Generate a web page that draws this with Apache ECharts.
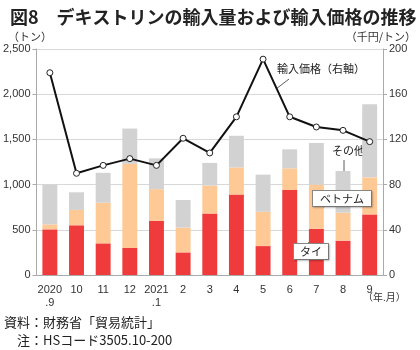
<!DOCTYPE html>
<html>
<head>
<meta charset="utf-8">
<script src="https://cdn.jsdelivr.net/npm/echarts@6/dist/echarts.min.js"></script>
<style>
  html, body { margin: 0; padding: 0; background: #fff; }
  #chart { width: 420px; height: 350px; }
</style>
</head>
<body>
<div id="chart"></div>
<script>
// 年.月
const months = ['2020\n.9', '10', '11', '12', '2021\n.1', '2', '3', '4', '5', '6', '7', '8', '9']
// 輸入量（トン）
const thai = [505, 550, 350, 300, 600, 250, 680, 890, 320, 940, 510, 380, 670]
const vietnam = [55, 170, 450, 930, 350, 275, 310, 300, 380, 240, 490, 310, 410]
const others = [440, 195, 330, 390, 340, 305, 250, 350, 410, 210, 460, 460, 810]
// 輸入価格（千円/トン）
const price = [179, 90, 97, 103, 97, 121, 108, 140, 191, 140, 131, 128, 118]

const jp = '"Noto Sans CJK JP", sans-serif'
const num = '"Liberation Sans", Arial, sans-serif'

let chart = echarts.init(document.getElementById('chart'))
let option = {
  animation: false,
  title: {
    text: '図8　デキストリンの輸入量および輸入価格の推移',
    left: 5,
    top: 3,
    textStyle: { fontFamily: jp, fontSize: 18, fontWeight: 'bold', color: '#222' }
  },
  grid: { left: 33, right: 37, top: 49, bottom: 75 },
  xAxis: {
    type: 'category',
    data: months,
    axisLine: { lineStyle: { color: '#aaa' } },
    axisTick: { length: 4, lineStyle: { color: '#aaa' } },
    axisLabel: { interval: 0, fontFamily: num, fontSize: 11, color: '#333', margin: 8, lineHeight: 13 }
  },
  yAxis: [
    {
      type: 'value', min: 0, max: 2500, interval: 500,
      axisLine: { show: true, lineStyle: { color: '#aaa' } },
      axisTick: { show: true, length: 4, lineStyle: { color: '#aaa' } },
      splitLine: { lineStyle: { color: '#d8d8d8' } },
      axisLabel: {
        fontFamily: num, fontSize: 11, color: '#333', margin: 6,
        formatter: v => v.toLocaleString('en-US')
      }
    },
    {
      type: 'value', min: 0, max: 200, interval: 40,
      axisLine: { show: true, lineStyle: { color: '#aaa' } },
      axisTick: { show: true, length: 4, lineStyle: { color: '#aaa' } },
      splitLine: { show: false },
      axisLabel: { fontFamily: num, fontSize: 11, color: '#333', margin: 6 }
    }
  ],
  series: [
    { name: 'タイ', type: 'bar', stack: 'q', data: thai, barWidth: '56%', itemStyle: { color: '#ef3b3b' } },
    { name: 'ベトナム', type: 'bar', stack: 'q', data: vietnam, itemStyle: { color: '#fec995' } },
    { name: 'その他', type: 'bar', stack: 'q', data: others, itemStyle: { color: '#d2d2d2' } },
    {
      name: '輸入価格', type: 'line', yAxisIndex: 1, data: price,
      symbol: 'circle', symbolSize: 6,
      lineStyle: { color: '#111', width: 2 },
      itemStyle: { color: '#fff', borderColor: '#222', borderWidth: 1 },
      z: 5
    }
  ],
  graphic: [
    { type: 'text', left: 8, top: 31, style: { text: '（トン）', font: '11px ' + jp, fill: '#333' } },
    { type: 'text', right: 4, top: 31, style: { text: '（千円/トン）', font: '11px ' + jp, fill: '#333' } },
    { type: 'text', left: 363, top: 292, style: { text: '（年.月）', font: '10px ' + jp, fill: '#333' } },
    { type: 'text', left: 277, top: 63, style: { text: '輸入価格（右軸）', font: '11px ' + jp, fill: '#222' } },
    { type: 'line', shape: { x1: 289, y1: 79, x2: 276, y2: 89 }, style: { stroke: '#333', lineWidth: 0.8 } },
    { type: 'text', left: 332, top: 145, style: { text: 'その他', font: '11px ' + jp, fill: '#222' } },
    { type: 'line', shape: { x1: 344, y1: 160, x2: 344, y2: 172 }, style: { stroke: '#333', lineWidth: 0.8 } },
    { type: 'line', shape: { x1: 325, y1: 206, x2: 315, y2: 217 }, style: { stroke: '#333', lineWidth: 0.8 } },
    {
      type: 'text', left: 312, top: 190, z: 10,
      style: {
        text: 'ベトナム', font: '11px ' + jp, fill: '#222',
        backgroundColor: '#fff', borderColor: '#888', borderWidth: 1, padding: [2, 7],
        shadowColor: 'rgba(0,0,0,0.2)', shadowBlur: 2, shadowOffsetX: 1, shadowOffsetY: 1
      }
    },
    { type: 'line', shape: { x1: 316, y1: 236, x2: 307, y2: 244 }, style: { stroke: '#333', lineWidth: 0.8 } },
    {
      type: 'text', left: 293, top: 243, z: 10,
      style: {
        text: 'タイ', font: '11px ' + jp, fill: '#222',
        backgroundColor: '#fff', borderColor: '#888', borderWidth: 1, padding: [2, 6],
        shadowColor: 'rgba(0,0,0,0.2)', shadowBlur: 2, shadowOffsetX: 1, shadowOffsetY: 1
      }
    },
    { type: 'text', left: 4, top: 316, style: { text: '資料：財務省「貿易統計」', font: '13px ' + jp, fill: '#222' } },
    { type: 'text', left: 17, top: 334, style: { text: '注：HSコード3505.10-200', font: '13px ' + jp, fill: '#222' } }
  ]
}
chart.setOption(option)
</script>
</body>
</html>
